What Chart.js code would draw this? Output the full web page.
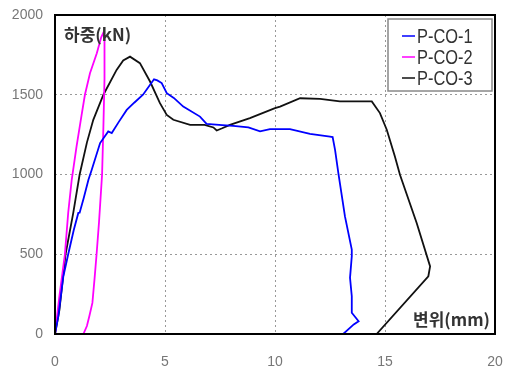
<!DOCTYPE html>
<html>
<head>
<meta charset="utf-8">
<script src="https://cdn.jsdelivr.net/npm/chart.js@4"></script>
<style>
  body { margin: 0; background: #fff; }
  #wrap { width: 507px; height: 372px; }
</style>
</head>
<body>
<div id="wrap"><canvas id="myChart"></canvas></div>
<script>
// displacement (mm) / load (kN)
var co1X = [0, 0.15, 0.38, 0.6, 0.85, 1.06, 1.12, 1.3, 1.52, 1.67, 2.05, 2.42, 2.58, 2.9, 3.26, 3.6, 4.0, 4.5, 4.65, 4.85, 5.08, 5.4, 5.83, 6.59, 6.89, 7.6, 8.1, 8.79, 9.32, 9.77, 10.68, 11.59, 12.5, 12.62, 12.73, 12.88, 13.18, 13.49, 13.49, 13.41, 13.49, 13.49, 13.8, 13.58, 13.1];
var co1Y = [0, 111, 362, 500, 650, 759, 760, 850, 967, 1030, 1197, 1270, 1260, 1330, 1405, 1450, 1500, 1597, 1590, 1573, 1510, 1480, 1426, 1363, 1318, 1310, 1305, 1295, 1270, 1285, 1285, 1255, 1238, 1235, 1155, 1009, 737, 529, 487, 352, 237, 133, 80, 60, 0];

var co2X = [0, 0.2, 0.45, 0.6, 0.76, 0.98, 1.21, 1.36, 1.59, 1.9, 2.1, 2.2, 2.25, 2.25, 2.2, 2.14, 2.0, 1.89, 1.8, 1.7, 1.56, 1.45, 1.29];
var co2Y = [0, 237, 500, 759, 967, 1176, 1374, 1500, 1635, 1760, 1860, 1890, 1850, 1600, 1300, 1000, 700, 500, 350, 195, 111, 50, 0];

var co3X = [0, 0.2, 0.48, 0.83, 1.12, 1.45, 1.74, 2.2, 2.8, 3.1, 3.41, 3.86, 4.32, 4.77, 5.08, 5.38, 6.14, 6.8, 7.2, 7.35, 7.6, 7.95, 8.86, 10.0, 10.23, 11.14, 12.05, 12.95, 14.4, 14.77, 15.08, 15.45, 15.68, 16.44, 17.05, 16.97, 14.62];
var co3Y = [0, 150, 500, 759, 1000, 1200, 1343, 1500, 1656, 1715, 1739, 1698, 1583, 1447, 1374, 1343, 1311, 1311, 1295, 1276, 1290, 1311, 1353, 1416, 1426, 1478, 1474, 1458, 1458, 1385, 1281, 1113, 998, 696, 424, 362, 0];

var xTicks = [0, 5, 10, 15, 20];
var yTicks = [0, 500, 1000, 1500, 2000];

function pts(xs, ys) {
  return xs.map(function (x, i) { return { x: x, y: ys[i] }; });
}

var tickFont = { family: "'Liberation Sans', sans-serif", size: 14 };

// box around the plot, axis captions and the legend inside the plot
var extras = {
  id: 'extras',
  afterDatasetsDraw: function (chart) {
    var c = chart.ctx, a = chart.chartArea;
    c.save();
    c.strokeStyle = '#000';
    c.lineWidth = 2;
    c.strokeRect(a.left, a.top, a.right - a.left, a.bottom - a.top);

    c.fillStyle = '#333';
    c.font = "bold 17px 'Noto Sans CJK KR', sans-serif";
    c.textBaseline = 'alphabetic';
    c.textAlign = 'left';
    c.fillText('하중(kN)', a.left + 9, a.top + 26);
    c.textAlign = 'right';
    c.fillText('변위(mm)', a.right - 5, a.bottom - 8);

    // legend
    var bx = 388, by = 19, bw = 104, bh = 72;
    c.fillStyle = '#fff';
    c.fillRect(bx, by, bw, bh);
    c.strokeStyle = '#888';
    c.lineWidth = 1.5;
    c.strokeRect(bx, by, bw, bh);
    c.font = "20px 'Liberation Sans', sans-serif";
    c.textAlign = 'left';
    c.textBaseline = 'middle';
    chart.data.datasets.forEach(function (ds, i) {
      var y = 36 + i * 21;
      c.strokeStyle = ds.borderColor;
      c.lineWidth = 1.5;
      c.beginPath();
      c.moveTo(402, y);
      c.lineTo(415, y);
      c.stroke();
      c.save();
      c.translate(417, y + 1);
      c.scale(0.82, 1);
      c.fillStyle = '#333';
      c.fillText(ds.label, 0, 0);
      c.restore();
    });
    c.restore();
  }
};

var ctx = document.getElementById('myChart');
var myChart = new Chart(ctx, {
  type: 'scatter',
  data: {
    datasets: [
      { label: 'P-CO-1', data: pts(co1X, co1Y), borderColor: '#0000ff', borderWidth: 1.8, showLine: true, pointRadius: 0, tension: 0 },
      { label: 'P-CO-2', data: pts(co2X, co2Y), borderColor: '#ff00ff', borderWidth: 1.8, showLine: true, pointRadius: 0, tension: 0 },
      { label: 'P-CO-3', data: pts(co3X, co3Y), borderColor: '#111111', borderWidth: 1.8, showLine: true, pointRadius: 0, tension: 0 }
    ]
  },
  options: {
    responsive: true,
    maintainAspectRatio: false,
    animation: false,
    layout: { padding: { top: 15, right: 12, left: 0, bottom: 0 } },
    plugins: { legend: { display: false }, tooltip: { enabled: false } },
    scales: {
      x: {
        type: 'linear', min: 0, max: 20,
        afterFit: function (s) { s.height = 38; s.paddingLeft = 0; s.paddingRight = 0; },
        afterBuildTicks: function (s) { s.ticks = xTicks.map(function (v) { return { value: v }; }); },
        ticks: { color: '#777', font: tickFont, padding: 20, maxRotation: 0, callback: function (v) { return String(v); } },
        grid: { color: '#999', lineWidth: 1, drawTicks: false },
        border: { display: false, dash: [2, 3] }
      },
      y: {
        type: 'linear', min: 0, max: 2000,
        afterFit: function (s) { s.width = 55; s.paddingTop = 0; s.paddingBottom = 0; },
        afterBuildTicks: function (s) { s.ticks = yTicks.map(function (v) { return { value: v }; }); },
        ticks: { color: '#777', font: tickFont, padding: 12, callback: function (v) { return String(v); } },
        grid: { color: '#999', lineWidth: 1, drawTicks: false },
        border: { display: false, dash: [2, 3] }
      }
    }
  },
  plugins: [extras]
});
</script>
</body>
</html>
